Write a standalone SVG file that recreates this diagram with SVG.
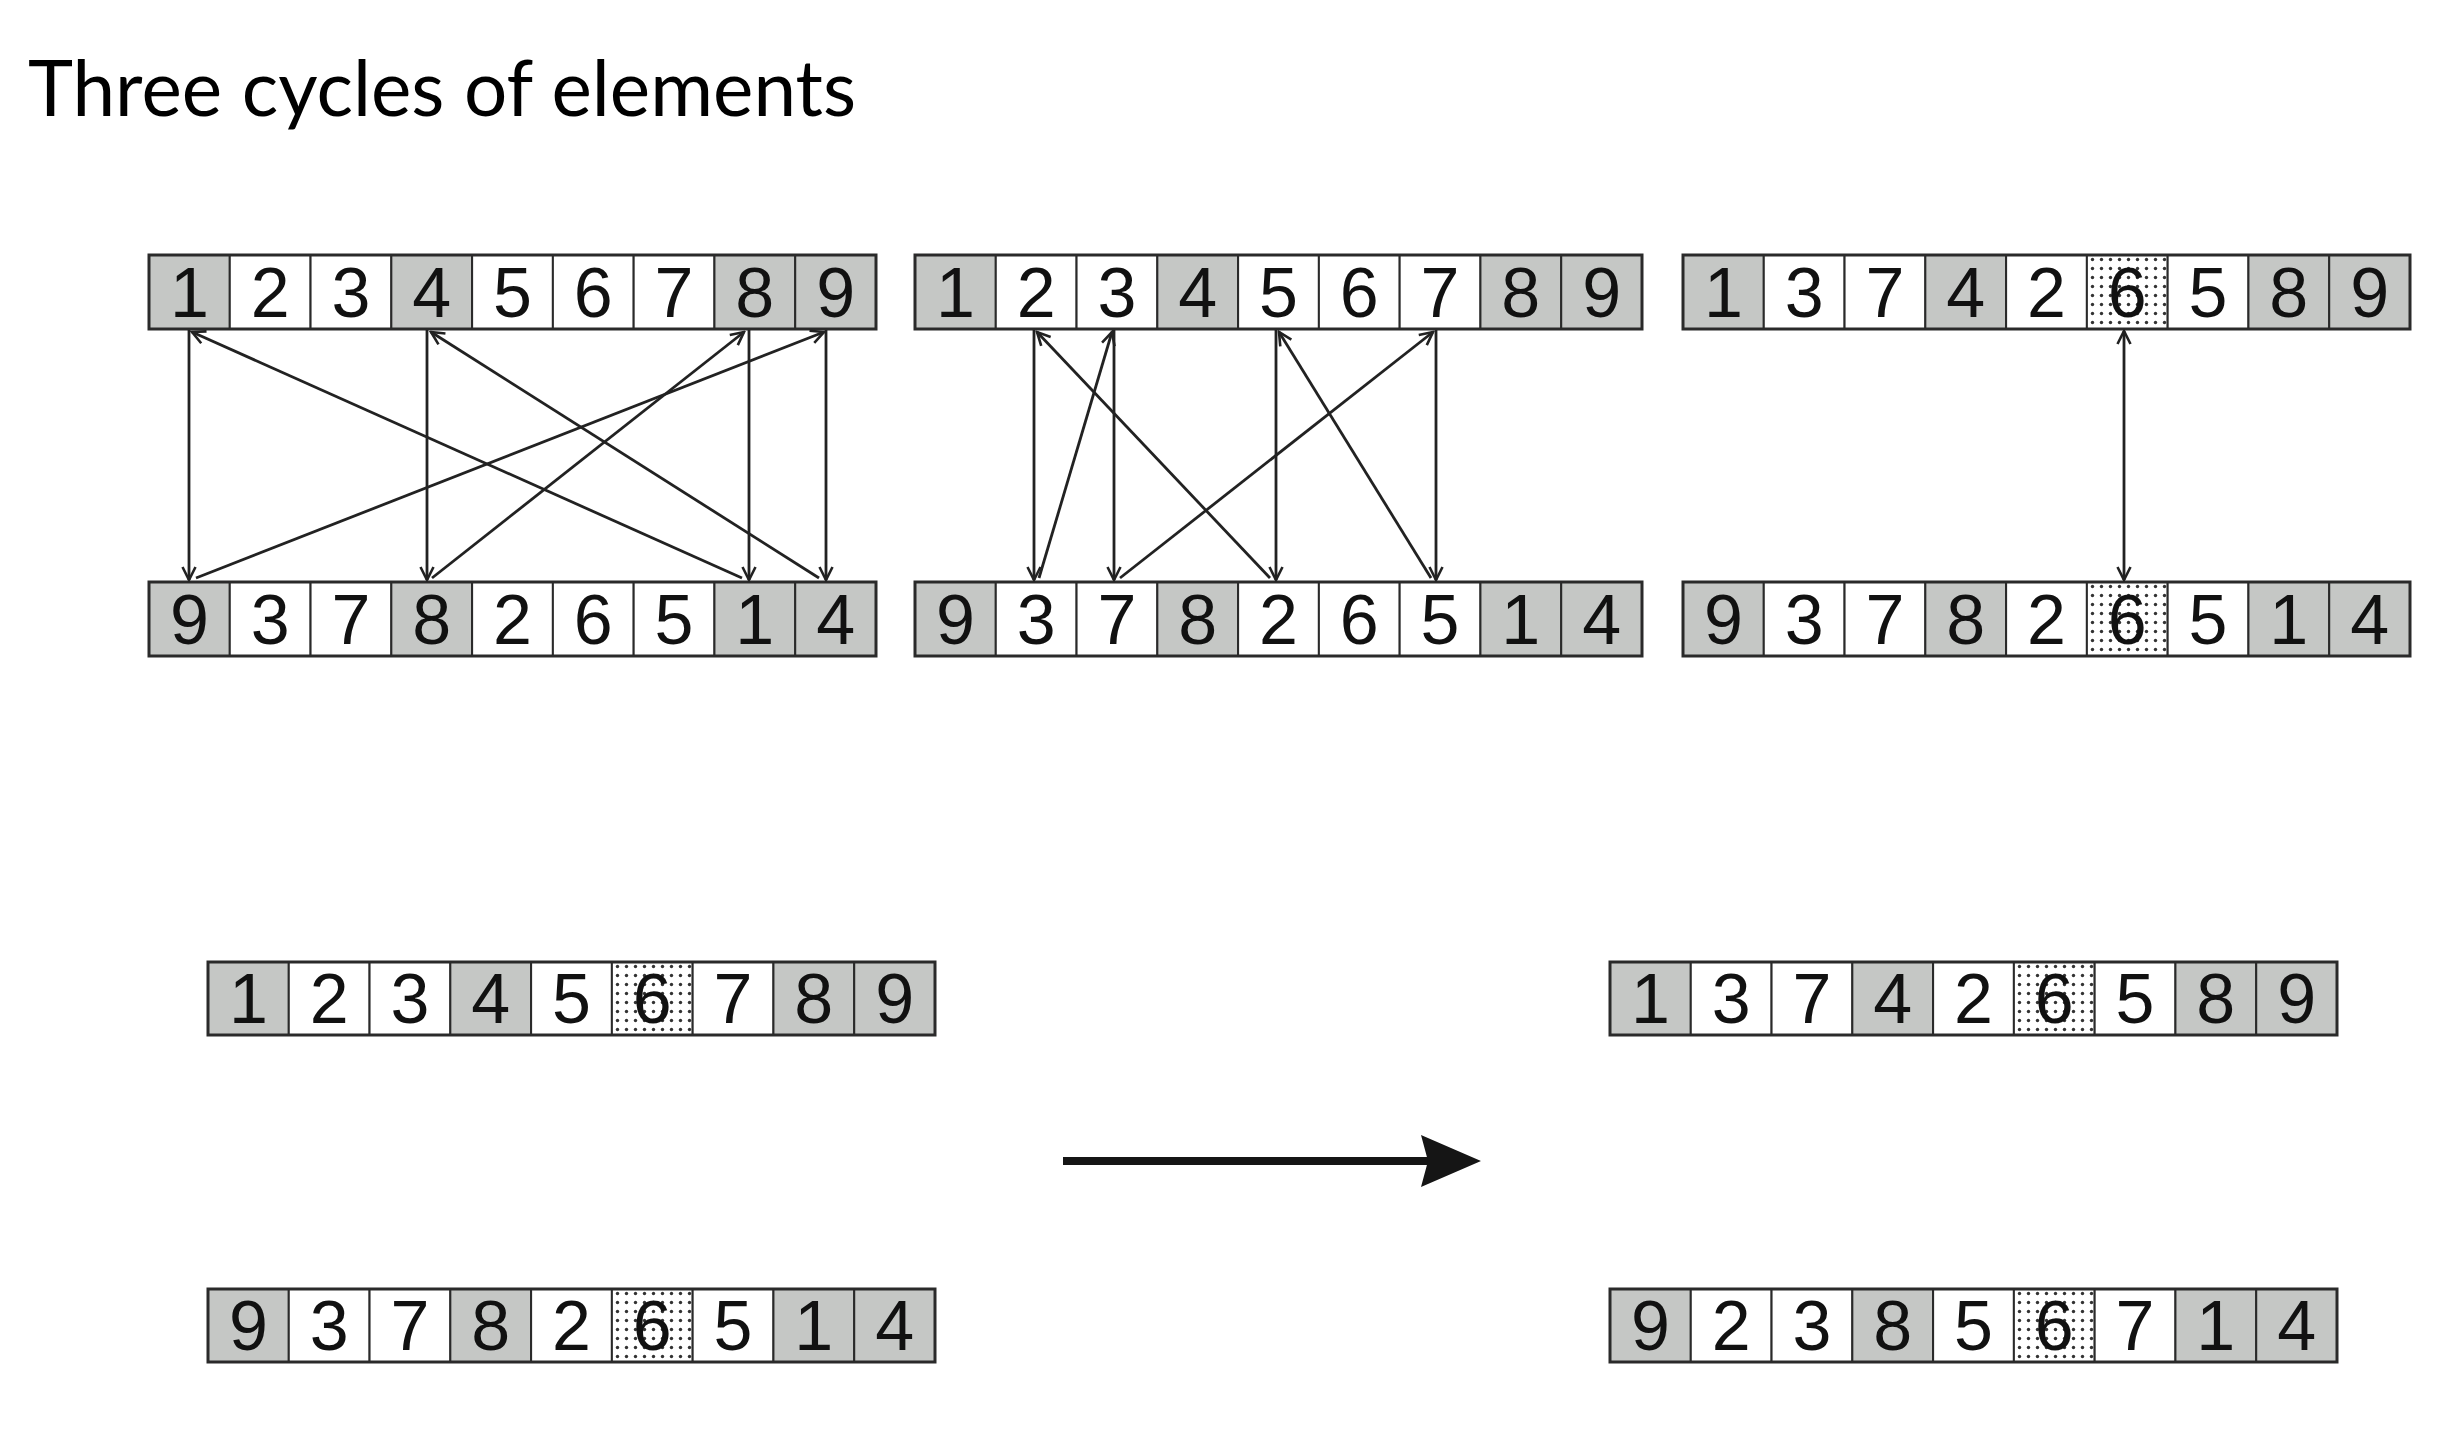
<svg xmlns="http://www.w3.org/2000/svg" width="2453" height="1433" viewBox="0 0 2453 1433">
<defs>
<style>
.g{fill:#c5c7c5;stroke:#2a2a2a;stroke-width:2}
.w{fill:#ffffff;stroke:#2a2a2a;stroke-width:2}
.d{fill:url(#dots);stroke:#2a2a2a;stroke-width:2}
.o{fill:none;stroke:#2a2a2a;stroke-width:3}
.n{font-family:"Liberation Sans",Arial,sans-serif;font-size:70px;fill:#111;text-anchor:middle}
.c{fill:none;stroke:#222;stroke-width:2.8}
.v{marker-end:url(#ah)}
.dg{marker-end:url(#ah)}
.title{font-family:"Lato","Open Sans",sans-serif;font-size:78px;fill:#000}
</style>
<pattern id="dots" width="9" height="9" patternUnits="userSpaceOnUse">
<rect width="9" height="9" fill="#fff"/>
<circle cx="4.5" cy="4.5" r="1.7" fill="#333"/>
</pattern>
<marker id="ah" viewBox="-16 -9 18 18" markerWidth="18" markerHeight="18" refX="0" refY="0" orient="auto-start-reverse" markerUnits="userSpaceOnUse">
<path d="M-13,-6.5 L0,0 L-13,6.5" fill="none" stroke="#222" stroke-width="2.6"/>
</marker>
</defs>
<rect width="2453" height="1433" fill="#fff"/>
<text class="title" x="28" y="116" textLength="828" lengthAdjust="spacingAndGlyphs">Three cycles of elements</text>

<g id="row-top-1" transform="translate(149,255)">
<rect class="g" x="0" y="0" width="80.78" height="74"/><rect class="w" x="80.78" y="0" width="80.78" height="74"/><rect class="w" x="161.56" y="0" width="80.78" height="74"/><rect class="g" x="242.33" y="0" width="80.78" height="74"/><rect class="w" x="323.11" y="0" width="80.78" height="74"/><rect class="w" x="403.89" y="0" width="80.78" height="74"/><rect class="w" x="484.67" y="0" width="80.78" height="74"/><rect class="g" x="565.44" y="0" width="80.78" height="74"/><rect class="g" x="646.22" y="0" width="80.78" height="74"/>
<rect class="o" x="0" y="0" width="727" height="74"/>
<text class="n" x="40.39" y="62">1</text><text class="n" x="121.17" y="62">2</text><text class="n" x="201.95" y="62">3</text><text class="n" x="282.72" y="62">4</text><text class="n" x="363.5" y="62">5</text><text class="n" x="444.28" y="62">6</text><text class="n" x="525.06" y="62">7</text><text class="n" x="605.83" y="62">8</text><text class="n" x="686.61" y="62">9</text>
</g>
<g id="row-bottom-1" transform="translate(149,582)">
<rect class="g" x="0" y="0" width="80.78" height="74"/><rect class="w" x="80.78" y="0" width="80.78" height="74"/><rect class="w" x="161.56" y="0" width="80.78" height="74"/><rect class="g" x="242.33" y="0" width="80.78" height="74"/><rect class="w" x="323.11" y="0" width="80.78" height="74"/><rect class="w" x="403.89" y="0" width="80.78" height="74"/><rect class="w" x="484.67" y="0" width="80.78" height="74"/><rect class="g" x="565.44" y="0" width="80.78" height="74"/><rect class="g" x="646.22" y="0" width="80.78" height="74"/>
<rect class="o" x="0" y="0" width="727" height="74"/>
<text class="n" x="40.39" y="62">9</text><text class="n" x="121.17" y="62">3</text><text class="n" x="201.95" y="62">7</text><text class="n" x="282.72" y="62">8</text><text class="n" x="363.5" y="62">2</text><text class="n" x="444.28" y="62">6</text><text class="n" x="525.06" y="62">5</text><text class="n" x="605.83" y="62">1</text><text class="n" x="686.61" y="62">4</text>
</g>

<g id="row-top-2" transform="translate(915,255)">
<rect class="g" x="0" y="0" width="80.78" height="74"/><rect class="w" x="80.78" y="0" width="80.78" height="74"/><rect class="w" x="161.56" y="0" width="80.78" height="74"/><rect class="g" x="242.33" y="0" width="80.78" height="74"/><rect class="w" x="323.11" y="0" width="80.78" height="74"/><rect class="w" x="403.89" y="0" width="80.78" height="74"/><rect class="w" x="484.67" y="0" width="80.78" height="74"/><rect class="g" x="565.44" y="0" width="80.78" height="74"/><rect class="g" x="646.22" y="0" width="80.78" height="74"/>
<rect class="o" x="0" y="0" width="727" height="74"/>
<text class="n" x="40.39" y="62">1</text><text class="n" x="121.17" y="62">2</text><text class="n" x="201.95" y="62">3</text><text class="n" x="282.72" y="62">4</text><text class="n" x="363.5" y="62">5</text><text class="n" x="444.28" y="62">6</text><text class="n" x="525.06" y="62">7</text><text class="n" x="605.83" y="62">8</text><text class="n" x="686.61" y="62">9</text>
</g>
<g id="row-bottom-2" transform="translate(915,582)">
<rect class="g" x="0" y="0" width="80.78" height="74"/><rect class="w" x="80.78" y="0" width="80.78" height="74"/><rect class="w" x="161.56" y="0" width="80.78" height="74"/><rect class="g" x="242.33" y="0" width="80.78" height="74"/><rect class="w" x="323.11" y="0" width="80.78" height="74"/><rect class="w" x="403.89" y="0" width="80.78" height="74"/><rect class="w" x="484.67" y="0" width="80.78" height="74"/><rect class="g" x="565.44" y="0" width="80.78" height="74"/><rect class="g" x="646.22" y="0" width="80.78" height="74"/>
<rect class="o" x="0" y="0" width="727" height="74"/>
<text class="n" x="40.39" y="62">9</text><text class="n" x="121.17" y="62">3</text><text class="n" x="201.95" y="62">7</text><text class="n" x="282.72" y="62">8</text><text class="n" x="363.5" y="62">2</text><text class="n" x="444.28" y="62">6</text><text class="n" x="525.06" y="62">5</text><text class="n" x="605.83" y="62">1</text><text class="n" x="686.61" y="62">4</text>
</g>

<g id="row-top-3" transform="translate(1683,255)">
<rect class="g" x="0" y="0" width="80.78" height="74"/><rect class="w" x="80.78" y="0" width="80.78" height="74"/><rect class="w" x="161.56" y="0" width="80.78" height="74"/><rect class="g" x="242.33" y="0" width="80.78" height="74"/><rect class="w" x="323.11" y="0" width="80.78" height="74"/><rect class="d" x="403.89" y="0" width="80.78" height="74"/><rect class="w" x="484.67" y="0" width="80.78" height="74"/><rect class="g" x="565.44" y="0" width="80.78" height="74"/><rect class="g" x="646.22" y="0" width="80.78" height="74"/>
<rect class="o" x="0" y="0" width="727" height="74"/>
<text class="n" x="40.39" y="62">1</text><text class="n" x="121.17" y="62">3</text><text class="n" x="201.95" y="62">7</text><text class="n" x="282.72" y="62">4</text><text class="n" x="363.5" y="62">2</text><text class="n" x="444.28" y="62">6</text><text class="n" x="525.06" y="62">5</text><text class="n" x="605.83" y="62">8</text><text class="n" x="686.61" y="62">9</text>
</g>
<g id="row-bottom-3" transform="translate(1683,582)">
<rect class="g" x="0" y="0" width="80.78" height="74"/><rect class="w" x="80.78" y="0" width="80.78" height="74"/><rect class="w" x="161.56" y="0" width="80.78" height="74"/><rect class="g" x="242.33" y="0" width="80.78" height="74"/><rect class="w" x="323.11" y="0" width="80.78" height="74"/><rect class="d" x="403.89" y="0" width="80.78" height="74"/><rect class="w" x="484.67" y="0" width="80.78" height="74"/><rect class="g" x="565.44" y="0" width="80.78" height="74"/><rect class="g" x="646.22" y="0" width="80.78" height="74"/>
<rect class="o" x="0" y="0" width="727" height="74"/>
<text class="n" x="40.39" y="62">9</text><text class="n" x="121.17" y="62">3</text><text class="n" x="201.95" y="62">7</text><text class="n" x="282.72" y="62">8</text><text class="n" x="363.5" y="62">2</text><text class="n" x="444.28" y="62">6</text><text class="n" x="525.06" y="62">5</text><text class="n" x="605.83" y="62">1</text><text class="n" x="686.61" y="62">4</text>
</g>

<g id="row-lower-left-top" transform="translate(208,962)">
<rect class="g" x="0" y="0" width="80.78" height="73"/><rect class="w" x="80.78" y="0" width="80.78" height="73"/><rect class="w" x="161.56" y="0" width="80.78" height="73"/><rect class="g" x="242.33" y="0" width="80.78" height="73"/><rect class="w" x="323.11" y="0" width="80.78" height="73"/><rect class="d" x="403.89" y="0" width="80.78" height="73"/><rect class="w" x="484.67" y="0" width="80.78" height="73"/><rect class="g" x="565.44" y="0" width="80.78" height="73"/><rect class="g" x="646.22" y="0" width="80.78" height="73"/>
<rect class="o" x="0" y="0" width="727" height="73"/>
<text class="n" x="40.39" y="61">1</text><text class="n" x="121.17" y="61">2</text><text class="n" x="201.95" y="61">3</text><text class="n" x="282.72" y="61">4</text><text class="n" x="363.5" y="61">5</text><text class="n" x="444.28" y="61">6</text><text class="n" x="525.06" y="61">7</text><text class="n" x="605.83" y="61">8</text><text class="n" x="686.61" y="61">9</text>
</g>
<g id="row-lower-left-bottom" transform="translate(208,1289)">
<rect class="g" x="0" y="0" width="80.78" height="73"/><rect class="w" x="80.78" y="0" width="80.78" height="73"/><rect class="w" x="161.56" y="0" width="80.78" height="73"/><rect class="g" x="242.33" y="0" width="80.78" height="73"/><rect class="w" x="323.11" y="0" width="80.78" height="73"/><rect class="d" x="403.89" y="0" width="80.78" height="73"/><rect class="w" x="484.67" y="0" width="80.78" height="73"/><rect class="g" x="565.44" y="0" width="80.78" height="73"/><rect class="g" x="646.22" y="0" width="80.78" height="73"/>
<rect class="o" x="0" y="0" width="727" height="73"/>
<text class="n" x="40.39" y="61">9</text><text class="n" x="121.17" y="61">3</text><text class="n" x="201.95" y="61">7</text><text class="n" x="282.72" y="61">8</text><text class="n" x="363.5" y="61">2</text><text class="n" x="444.28" y="61">6</text><text class="n" x="525.06" y="61">5</text><text class="n" x="605.83" y="61">1</text><text class="n" x="686.61" y="61">4</text>
</g>

<g id="row-lower-right-top" transform="translate(1610,962)">
<rect class="g" x="0" y="0" width="80.78" height="73"/><rect class="w" x="80.78" y="0" width="80.78" height="73"/><rect class="w" x="161.56" y="0" width="80.78" height="73"/><rect class="g" x="242.33" y="0" width="80.78" height="73"/><rect class="w" x="323.11" y="0" width="80.78" height="73"/><rect class="d" x="403.89" y="0" width="80.78" height="73"/><rect class="w" x="484.67" y="0" width="80.78" height="73"/><rect class="g" x="565.44" y="0" width="80.78" height="73"/><rect class="g" x="646.22" y="0" width="80.78" height="73"/>
<rect class="o" x="0" y="0" width="727" height="73"/>
<text class="n" x="40.39" y="61">1</text><text class="n" x="121.17" y="61">3</text><text class="n" x="201.95" y="61">7</text><text class="n" x="282.72" y="61">4</text><text class="n" x="363.5" y="61">2</text><text class="n" x="444.28" y="61">6</text><text class="n" x="525.06" y="61">5</text><text class="n" x="605.83" y="61">8</text><text class="n" x="686.61" y="61">9</text>
</g>
<g id="row-lower-right-bottom" transform="translate(1610,1289)">
<rect class="g" x="0" y="0" width="80.78" height="73"/><rect class="w" x="80.78" y="0" width="80.78" height="73"/><rect class="w" x="161.56" y="0" width="80.78" height="73"/><rect class="g" x="242.33" y="0" width="80.78" height="73"/><rect class="w" x="323.11" y="0" width="80.78" height="73"/><rect class="d" x="403.89" y="0" width="80.78" height="73"/><rect class="w" x="484.67" y="0" width="80.78" height="73"/><rect class="g" x="565.44" y="0" width="80.78" height="73"/><rect class="g" x="646.22" y="0" width="80.78" height="73"/>
<rect class="o" x="0" y="0" width="727" height="73"/>
<text class="n" x="40.39" y="61">9</text><text class="n" x="121.17" y="61">2</text><text class="n" x="201.95" y="61">3</text><text class="n" x="282.72" y="61">8</text><text class="n" x="363.5" y="61">5</text><text class="n" x="444.28" y="61">6</text><text class="n" x="525.06" y="61">7</text><text class="n" x="605.83" y="61">1</text><text class="n" x="686.61" y="61">4</text>
</g>

<g id="connectors">
<line class="c v" x1="189" y1="330" x2="189" y2="580"/>
<line class="c v" x1="427" y1="330" x2="427" y2="580"/>
<line class="c v" x1="749" y1="330" x2="749" y2="580"/>
<line class="c v" x1="826" y1="330" x2="826" y2="580"/>
<line class="c dg" x1="196" y1="578" x2="824" y2="332"/>
<line class="c dg" x1="819" y1="578" x2="431" y2="332"/>
<line class="c dg" x1="432" y1="578" x2="744" y2="332"/>
<line class="c dg" x1="742" y1="578" x2="192" y2="332"/>

<line class="c v" x1="1034" y1="330" x2="1034" y2="580"/>
<line class="c v" x1="1114" y1="330" x2="1114" y2="580"/>
<line class="c v" x1="1276" y1="330" x2="1276" y2="580"/>
<line class="c v" x1="1436" y1="330" x2="1436" y2="580"/>
<line class="c dg" x1="1039" y1="578" x2="1112" y2="332"/>
<line class="c dg" x1="1120" y1="578" x2="1433" y2="332"/>
<line class="c dg" x1="1431" y1="578" x2="1279" y2="332"/>
<line class="c dg" x1="1270" y1="578" x2="1037" y2="332"/>

<line class="c" x1="2124" y1="331" x2="2124" y2="580" marker-start="url(#ah)" marker-end="url(#ah)"/>

<line x1="1063" y1="1161" x2="1428" y2="1161" stroke="#151515" stroke-width="8"/>
<polygon points="1421,1135 1481,1161 1421,1187 1428,1161" fill="#151515"/>
</g>
</svg>
